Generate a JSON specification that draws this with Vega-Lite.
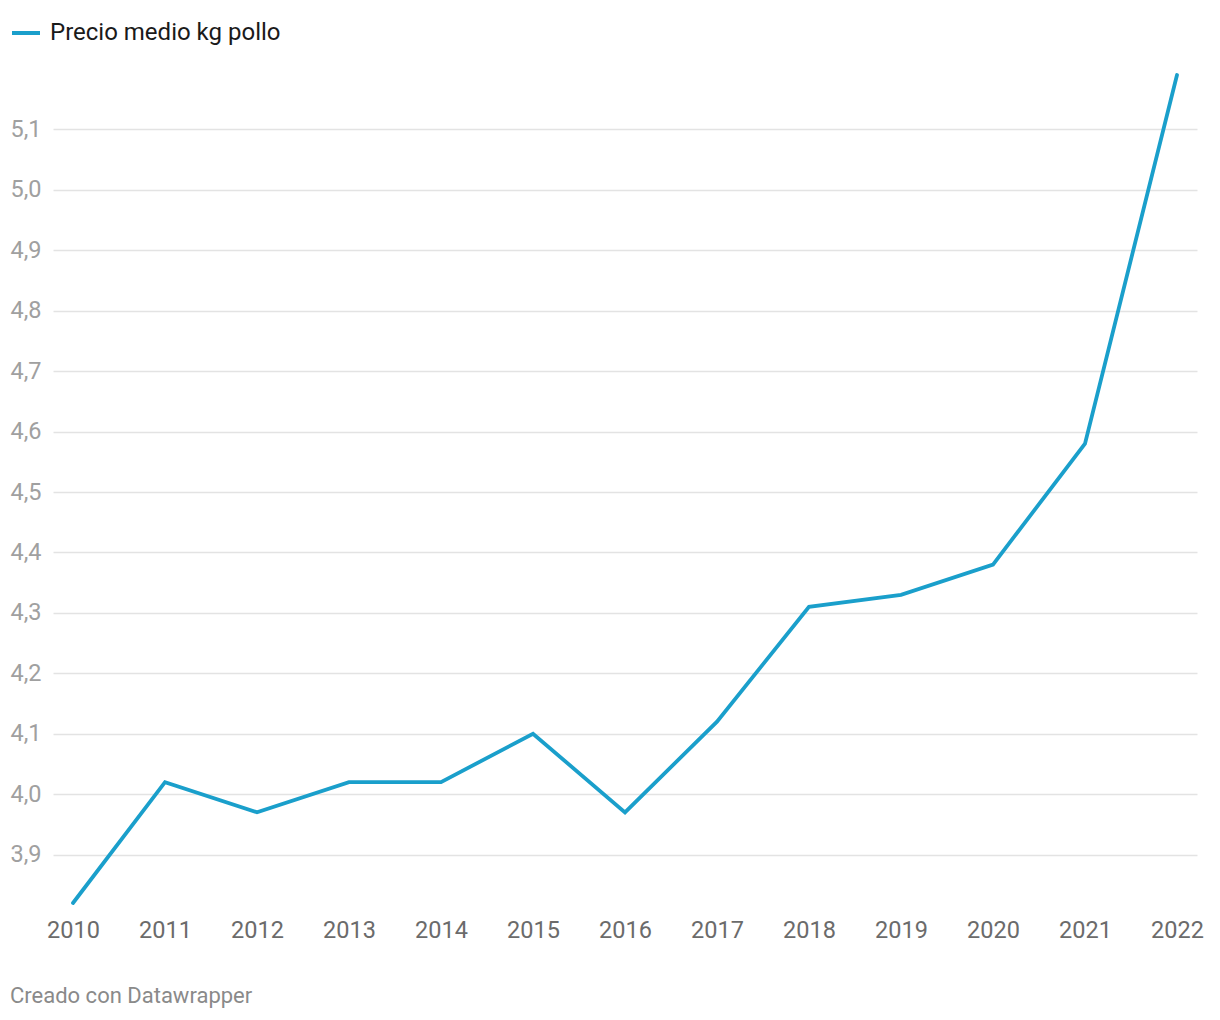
{
  "$schema": "https://vega.github.io/schema/vega-lite/v6.json",
  "width": 1144,
  "height": 828,
  "autosize": {"type": "none"},
  "padding": {"left": 53, "top": 75, "right": 23, "bottom": 117},
  "background": "#ffffff",
  "config": {
    "font": "Roboto",
    "view": {"stroke": null}
  },
  "title": {
    "text": "Creado con Datawrapper",
    "orient": "bottom",
    "anchor": "start",
    "offset": 44,
    "fontSize": 22,
    "fontWeight": "normal",
    "color": "#8a8a8a",
    "font": "Roboto"
  },
  "data": {
    "values": [
      {"year": 2010, "precio": 3.82, "serie": "Precio medio kg pollo"},
      {"year": 2011, "precio": 4.02, "serie": "Precio medio kg pollo"},
      {"year": 2012, "precio": 3.97, "serie": "Precio medio kg pollo"},
      {"year": 2013, "precio": 4.02, "serie": "Precio medio kg pollo"},
      {"year": 2014, "precio": 4.02, "serie": "Precio medio kg pollo"},
      {"year": 2015, "precio": 4.10, "serie": "Precio medio kg pollo"},
      {"year": 2016, "precio": 3.97, "serie": "Precio medio kg pollo"},
      {"year": 2017, "precio": 4.12, "serie": "Precio medio kg pollo"},
      {"year": 2018, "precio": 4.31, "serie": "Precio medio kg pollo"},
      {"year": 2019, "precio": 4.33, "serie": "Precio medio kg pollo"},
      {"year": 2020, "precio": 4.38, "serie": "Precio medio kg pollo"},
      {"year": 2021, "precio": 4.58, "serie": "Precio medio kg pollo"},
      {"year": 2022, "precio": 5.19, "serie": "Precio medio kg pollo"}
    ]
  },
  "mark": {"type": "line", "strokeWidth": 3.8, "strokeCap": "round", "strokeJoin": "miter"},
  "encoding": {
    "x": {
      "field": "year",
      "type": "quantitative",
      "scale": {"domain": [2010, 2022], "nice": false, "zero": false, "padding": 20},
      "axis": {
        "title": null,
        "values": [2010, 2011, 2012, 2013, 2014, 2015, 2016, 2017, 2018, 2019, 2020, 2021, 2022],
        "format": "d",
        "grid": false,
        "domain": false,
        "ticks": false,
        "tickSize": 0,
        "labelPadding": 15,
        "labelFontSize": 23.5,
        "labelColor": "#6b6b6b",
        "labelFont": "Roboto"
      }
    },
    "y": {
      "field": "precio",
      "type": "quantitative",
      "scale": {"domain": [3.82, 5.19], "nice": false, "zero": false},
      "axis": {
        "title": null,
        "values": [3.9, 4.0, 4.1, 4.2, 4.3, 4.4, 4.5, 4.6, 4.7, 4.8, 4.9, 5.0, 5.1],
        "labelExpr": "replace(format(datum.value, '.1f'), '.', ',')",
        "grid": true,
        "gridColor": "#e3e3e3",
        "gridWidth": 1.5,
        "domain": false,
        "ticks": false,
        "tickSize": 0,
        "labelAlign": "left",
        "labelBaseline": "middle",
        "labelPadding": 43,
        "labelFontSize": 23.5,
        "labelColor": "#a0a0a0",
        "labelFont": "Roboto"
      }
    },
    "color": {
      "field": "serie",
      "type": "nominal",
      "scale": {"range": ["#1a9fcb"]},
      "legend": {
        "title": null,
        "orient": "none",
        "legendX": -43,
        "legendY": -58,
        "symbolType": "stroke",
        "symbolStrokeWidth": 4,
        "symbolSize": 784,
        "labelFontSize": 24,
        "labelColor": "#1a1a1a",
        "labelFont": "Roboto",
        "labelOffset": 8,
        "labelLimit": 0
      }
    }
  }
}
